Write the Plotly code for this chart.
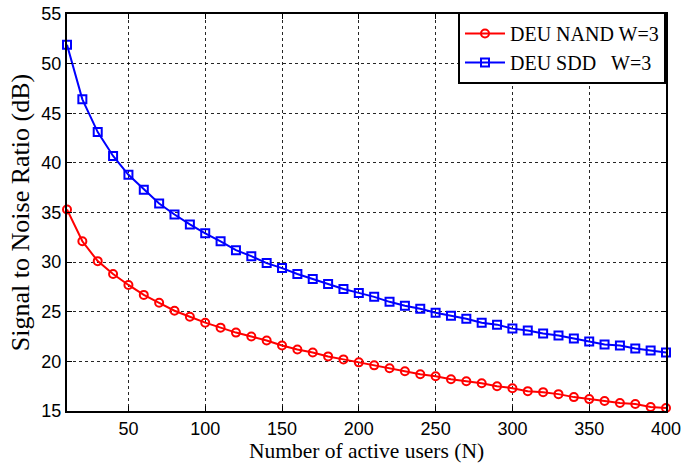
import plotly.graph_objects as go

users = list(range(10, 401, 10))
snr_nand = [35.3, 32.1, 30.1, 28.8, 27.7, 26.7, 25.9, 25.1, 24.5, 23.9,
            23.4, 22.9, 22.5, 22.1, 21.6, 21.2, 20.9, 20.5, 20.2, 19.9,
            19.6, 19.3, 19.0, 18.7, 18.5, 18.2, 18.0, 17.8, 17.5, 17.3,
            17.0, 16.9, 16.7, 16.4, 16.2, 16.0, 15.8, 15.7, 15.4, 15.3]
snr_sdd = [51.9, 46.4, 43.1, 40.7, 38.8, 37.3, 35.9, 34.8, 33.8, 32.9,
           32.1, 31.2, 30.6, 29.9, 29.4, 28.8, 28.3, 27.8, 27.3, 26.9,
           26.5, 26.0, 25.6, 25.3, 24.9, 24.6, 24.3, 23.9, 23.7, 23.3,
           23.1, 22.8, 22.6, 22.3, 22.0, 21.7, 21.6, 21.3, 21.1, 20.9]
x_ticks = [50, 100, 150, 200, 250, 300, 350, 400]
y_ticks = [15, 20, 25, 30, 35, 40, 45, 50, 55]

fig = go.Figure()
fig.add_trace(go.Scatter(
    x=users, y=snr_nand, mode="lines+markers", name="DEU NAND W=3",
    line=dict(color="#ff0000", width=2),
    marker=dict(symbol="circle-open", size=8, color="#ff0000", line=dict(width=2)),
    cliponaxis=False,
))
fig.add_trace(go.Scatter(
    x=users, y=snr_sdd, mode="lines+markers", name="DEU SDD&nbsp;&nbsp;&nbsp;W=3",
    line=dict(color="#0000ff", width=2),
    marker=dict(symbol="square-open", size=8, color="#0000ff", line=dict(width=2)),
    cliponaxis=False,
))

axis_common = dict(
    showline=True, linecolor="black", linewidth=2, mirror="ticks",
    ticks="inside", ticklen=5, tickcolor="black",
    showgrid=True, gridcolor="rgba(0,0,0,0.85)", griddash="dot", gridwidth=1,
    zeroline=False, ticklabeloverflow="allow", automargin=False,
    tickfont=dict(family="Liberation Sans, Arial", size=18, color="black"),
)

fig.update_layout(
    width=682, height=466,
    margin=dict(l=67, r=16, t=14, b=55),
    paper_bgcolor="white", plot_bgcolor="white",
    font=dict(family="Liberation Serif, Times New Roman", color="black"),
    xaxis=dict(range=[10, 400], tickvals=x_ticks,
               title=dict(text="Number of active users (N)", standoff=2,
                          font=dict(family="Liberation Serif", size=21.5)),
               **axis_common),
    yaxis=dict(range=[15, 55], tickvals=y_ticks,
               title=dict(text="Signal to Noise Ratio (dB)", standoff=4,
                          font=dict(family="Liberation Serif", size=26)),
               **axis_common),
    legend=dict(x=1.0, y=1.005, xanchor="right", yanchor="top",
                bgcolor="white", bordercolor="black", borderwidth=2,
                font=dict(family="Liberation Serif", size=20),
                tracegroupgap=0, itemwidth=40),
    showlegend=True,
)

fig.write_html("out.html")
